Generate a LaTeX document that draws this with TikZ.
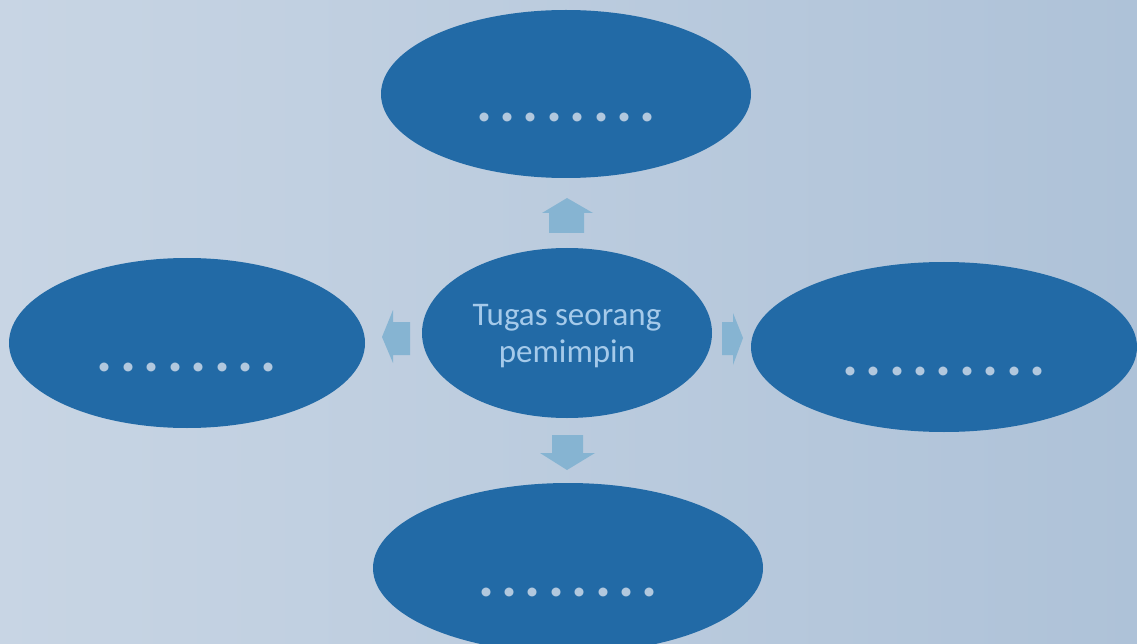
\documentclass[tikz,border=0pt]{standalone}
\usepackage{fontspec}
\setmainfont{Carlito}
\usetikzlibrary{shapes.geometric}
\definecolor{bgA}{RGB}{200,213,228}
\definecolor{bgB}{RGB}{174,194,216}
\definecolor{ellblue}{RGB}{34,106,166}
\definecolor{arrblue}{RGB}{134,180,210}
\definecolor{txtblue}{RGB}{165,202,234}
\definecolor{dotcol}{RGB}{178,200,222}
\newcommand\dg{\kern7.4pt}
\tikzset{
  blob/.style={ellipse, fill=ellblue, draw=none, inner sep=0pt},
  dotlabel/.style={text=dotcol, font=\bfseries\fontsize{60}{60}\selectfont, text height=56pt, text depth=0pt},
  blockarrow/.style={fill=arrblue, draw=none}
}
\begin{document}
\begin{tikzpicture}[x=1pt,y=-1pt]
\shade[left color=bgA, right color=bgB] (0,0) rectangle (1137,644);
\useasboundingbox (0,0) rectangle (1137,644);
\node[blob, dotlabel, minimum width=370pt, minimum height=168pt] (top) at (566,94) {.\dg.\dg.\dg.\dg.\dg.\dg.\dg.};
\node[blob, dotlabel, minimum width=356pt, minimum height=170pt] (left) at (187,343) {.\dg.\dg.\dg.\dg.\dg.\dg.\dg.};
\node[blob, dotlabel, minimum width=386pt, minimum height=170pt] (right) at (944,347) {.\dg.\dg.\dg.\dg.\dg.\dg.\dg.\dg.};
\node[blob, dotlabel, minimum width=390pt, minimum height=170pt] (bottom) at (568,568) {.\dg.\dg.\dg.\dg.\dg.\dg.\dg.};
\node[blob, minimum width=290pt, minimum height=170pt,
      label={[text=txtblue, align=center, font=\fontsize{33}{37}\selectfont, yshift=-3pt]center:{Tugas seorang\\pemimpin}}] (center) at (567,333) {};
% block arrows
\fill[blockarrow] (549,233) -- (549,213) -- (542,213) -- (567,198) -- (593,213) -- (584,213) -- (584,233) -- cycle;
\fill[blockarrow] (410,322) -- (393,322) -- (393,310) -- (382,337) -- (393,363) -- (393,355) -- (410,355) -- cycle;
\fill[blockarrow] (722,322) -- (733,322) -- (733,313) -- (743,338) -- (733,365) -- (733,355) -- (722,355) -- cycle;
\fill[blockarrow] (552,435) -- (583,435) -- (583,453) -- (595,453) -- (567,470) -- (540,453) -- (552,453) -- cycle;
\end{tikzpicture}
\end{document}
